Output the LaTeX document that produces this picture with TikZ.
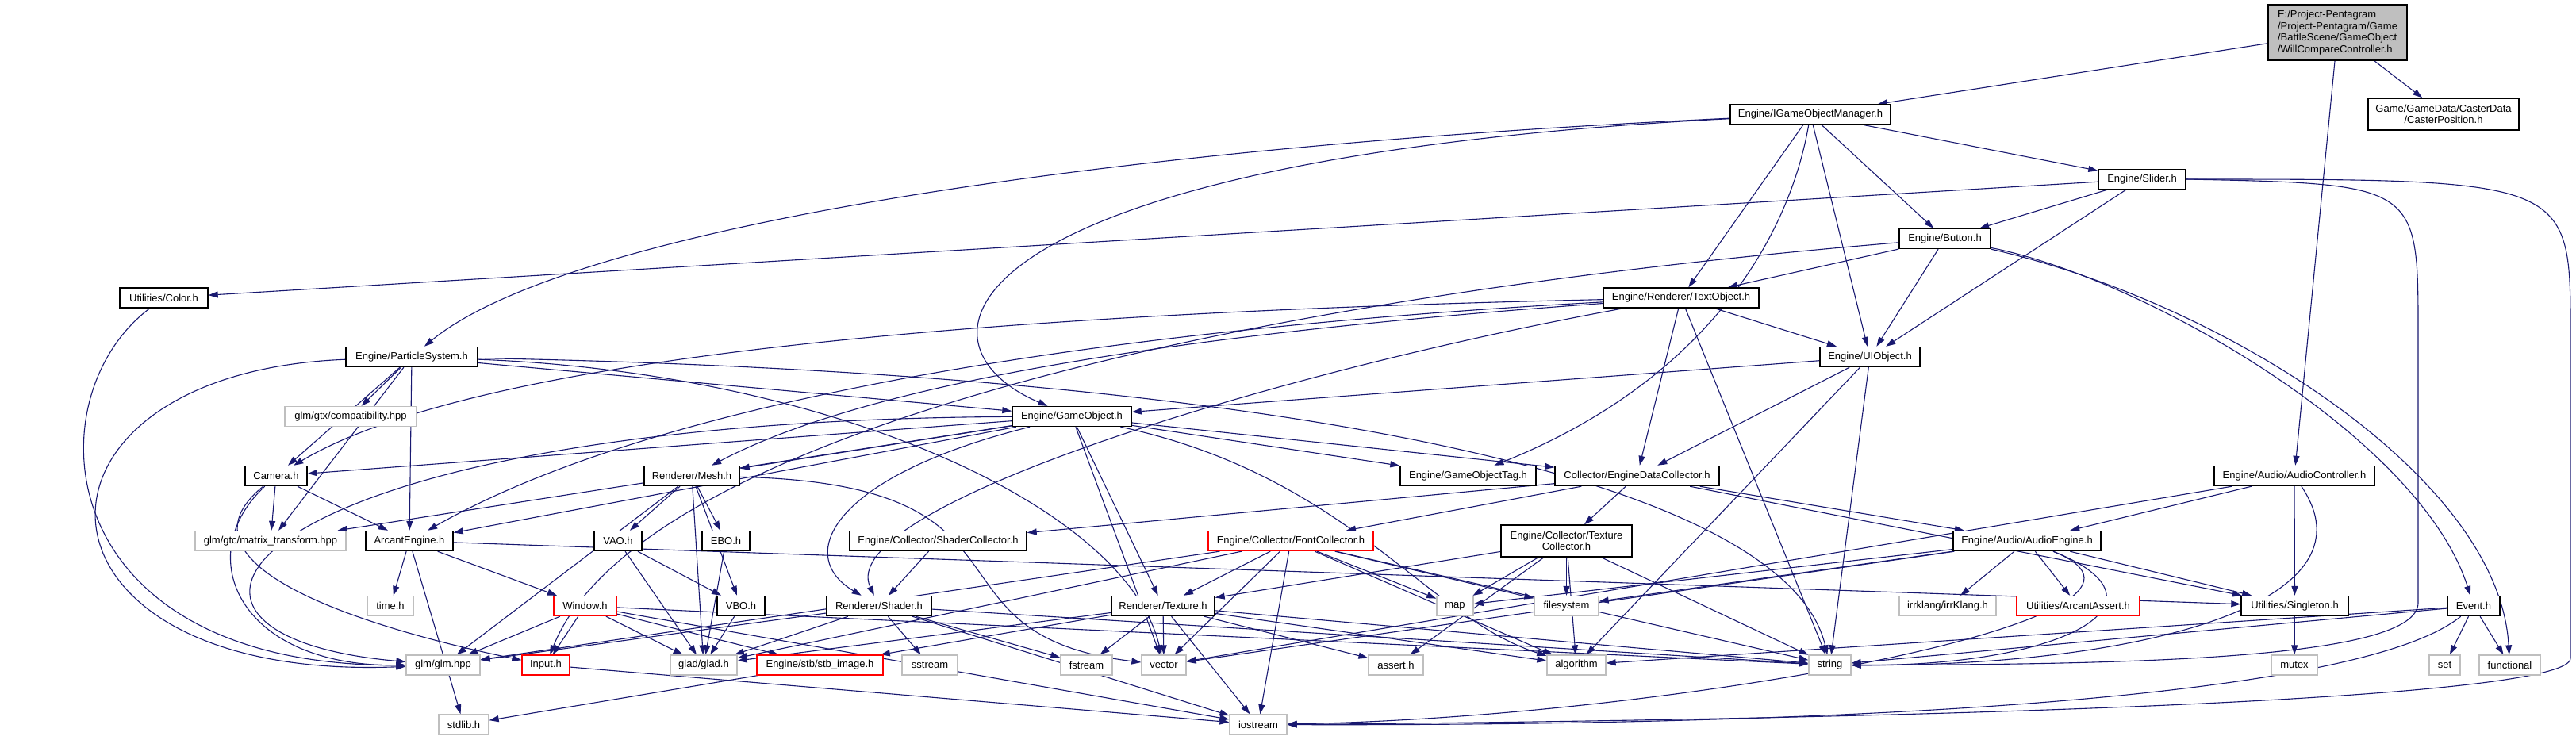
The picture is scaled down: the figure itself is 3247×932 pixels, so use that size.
\documentclass[tikz,border=0pt]{standalone}
\usepackage{fontspec}
\newfontfamily\dotfont{Liberation Sans}
\usetikzlibrary{arrows.meta,backgrounds}
\definecolor{depBlue}{HTML}{191970}
\definecolor{depGray}{HTML}{BFBFBF}
\definecolor{depRed}{HTML}{FF0000}
\tikzset{
  file/.style={draw=black, line width=1.4pt, fill=white, inner sep=0pt,
    minimum height=25pt, align=center, font=\dotfont\fontsize{13}{14.5}\selectfont},
  sysfile/.style={file, draw=depGray, line width=1.3pt},
  cutfile/.style={file, draw=depRed, line width=1.3pt},
  rootfile/.style={file, fill=depGray, align=left},
  dep/.style={draw=depBlue, line width=1.1pt, -{Triangle[length=12pt,width=8pt]}},
}
\begin{document}
\begin{tikzpicture}[x=1pt,y=-1pt]
  \useasboundingbox (0,0) rectangle (3247,932);
  % rows of the include graph
  \node[rootfile, minimum width=175pt, minimum height=70pt] (root) at (2946.5,41)
    {E:/Project-Pentagram\\/Project-Pentagram/Game\\/BattleScene/GameObject\\/WillCompareController.h};
  \node[file, minimum width=202pt] (igom) at (2282,144.5) {Engine/IGameObjectManager.h};
  \node[file, minimum width=190pt, minimum height=40pt] (caster) at (3080,144)
    {Game/GameData/CasterData\\/CasterPosition.h};
  \node[file, minimum width=110pt] (slider) at (2700,226) {Engine/Slider.h};
  \node[file, minimum width=115pt] (button) at (2451.5,301) {Engine/Button.h};
  \node[file, minimum width=196pt] (textobj) at (2119,375.5) {Engine/Renderer/TextObject.h};
  \node[file, minimum width=111pt] (color) at (206.5,375.5) {Utilities/Color.h};
  \node[file, minimum width=126pt] (uiobj) at (2357,450) {Engine/UIObject.h};
  \node[file, minimum width=166pt] (particles) at (519,450) {Engine/ParticleSystem.h};
  \node[file, minimum width=150pt] (gameobj) at (1351,525) {Engine/GameObject.h};
  \node[sysfile, minimum width=166pt] (compat) at (442,525) {glm/gtx/compatibility.hpp};
  \node[file, minimum width=78pt] (camera) at (348,600) {Camera.h};
  \node[file, minimum width=120pt] (mesh) at (872,600) {Renderer/Mesh.h};
  \node[file, minimum width=171pt] (gotag) at (1850.5,600) {Engine/GameObjectTag.h};
  \node[file, minimum width=207pt] (edc) at (2063.5,600) {Collector/EngineDataCollector.h};
  \node[file, minimum width=202pt] (audioctrl) at (2892,600) {Engine/Audio/AudioController.h};
  \node[sysfile, minimum width=190pt] (mattrans) at (341,682) {glm/gtc/matrix\_transform.hpp};
  \node[file, minimum width=110pt] (arcant) at (516,682) {ArcantEngine.h};
  \node[file, minimum width=60pt] (vao) at (779,682) {VAO.h};
  \node[file, minimum width=60pt] (ebo) at (915,682) {EBO.h};
  \node[file, minimum width=223pt] (shadercol) at (1182.5,682) {Engine/Collector/ShaderCollector.h};
  \node[cutfile, minimum width=208pt] (fontcol) at (1627,682) {Engine/Collector/FontCollector.h};
  \node[file, minimum width=165pt, minimum height=40pt] (texcol) at (1974.5,682)
    {Engine/Collector/Texture\\Collector.h};
  \node[file, minimum width=186pt] (audioeng) at (2555,682) {Engine/Audio/AudioEngine.h};
  \node[sysfile, minimum width=58pt] (timeh) at (492,764) {time.h};
  \node[cutfile, minimum width=79pt] (window) at (737.5,764) {Window.h};
  \node[file, minimum width=60pt] (vbo) at (934,764) {VBO.h};
  \node[file, minimum width=132pt] (shader) at (1108,764) {Renderer/Shader.h};
  \node[file, minimum width=130pt] (texture) at (1466,764) {Renderer/Texture.h};
  \node[sysfile, minimum width=46pt] (mapp) at (1834,764) {map};
  \node[sysfile, minimum width=81pt] (filesys) at (1974.5,764) {filesystem};
  \node[sysfile, minimum width=122pt] (irrklang) at (2455,764) {irrklang/irrKlang.h};
  \node[cutfile, minimum width=155pt] (arcassert) at (2619.5,764) {Utilities/ArcantAssert.h};
  \node[file, minimum width=135pt] (singleton) at (2892.5,764) {Utilities/Singleton.h};
  \node[file, minimum width=66pt] (event) at (3118,764) {Event.h};
  \node[sysfile, minimum width=93pt] (glmh) at (558.5,838.5) {glm/glm.hpp};
  \node[cutfile, minimum width=60pt] (input) at (688,838.5) {Input.h};
  \node[sysfile, minimum width=84pt] (glad) at (887,838.5) {glad/glad.h};
  \node[cutfile, minimum width=159pt] (stbimg) at (1033.5,838.5) {Engine/stb/stb\_image.h};
  \node[sysfile, minimum width=70pt] (sstream) at (1172,838.5) {sstream};
  \node[sysfile, minimum width=65pt] (fstream) at (1369.5,838.5) {fstream};
  \node[sysfile, minimum width=56pt] (vectorh) at (1467,838.5) {vector};
  \node[sysfile, minimum width=69pt] (asserth) at (1759.5,838.5) {assert.h};
  \node[sysfile, minimum width=74pt] (algo) at (1987,838.5) {algorithm};
  \node[sysfile, minimum width=53pt] (stringh) at (2306.5,838.5) {string};
  \node[sysfile, minimum width=58pt] (mutex) at (2892,838.5) {mutex};
  \node[sysfile, minimum width=39pt] (seth) at (3081.5,838.5) {set};
  \node[sysfile, minimum width=77pt] (functional) at (3163.5,838.5) {functional};
  \node[sysfile, minimum width=63pt] (stdlibh) at (584.5,913.5) {stdlib.h};
  \node[sysfile, minimum width=72pt] (iostream) at (1586,913.5) {iostream};

  % includes
  \begin{scope}[on background layer]
    \path (root) edge[dep] (igom) edge[dep] (caster) edge[dep] (audioctrl);
    \draw[dep] (igom) .. controls (1300,190) and (700,300) .. (particles);
    \draw[dep] (igom) .. controls (1200,200) and (1130,430) .. (gameobj);
    \draw[dep] (igom) .. controls (2255,300) and (2150,480) .. (gotag);
    \path (igom) edge[dep] (textobj) edge[dep] (uiobj) edge[dep] (button) edge[dep] (slider);
    \path (slider) edge[dep] (color) edge[dep] (button) edge[dep] (uiobj);
    \draw[dep] (slider.east) .. controls (3048,232) .. (3048,420) -- (3048,760)
      .. controls (3048,830) and (2700,838) .. (stringh.east);
    \draw[dep] (slider.east) .. controls (3240,226) .. (3240,420) -- (3240,830)
      .. controls (3240,880) and (2500,906) .. (iostream.east);
    \path (button) edge[dep] (textobj) edge[dep] (uiobj);
    \draw[dep] (button) .. controls (2700,350) and (3050,550) .. (event);
    \draw[dep] (button) .. controls (2800,380) and (3150,600) .. (functional);
    \draw[dep] (button) .. controls (1500,380) and (800,560) .. (input);
    \draw[dep] (textobj) .. controls (1000,400) and (550,480) .. (camera);
    \draw[dep] (textobj) .. controls (1300,420) and (800,520) .. (arcant);
    \draw[dep] (textobj) .. controls (1500,420) and (1100,480) .. (mesh);
    \draw[dep] (textobj) .. controls (1600,470) and (1050,640) .. (shader);
    \path (textobj) edge[dep] (uiobj) edge[dep] (edc) edge[dep] (stringh);
    \draw[dep] (color) .. controls (40,500) and (60,840) .. (glmh);
    \path (particles) edge[dep] (compat) edge[dep] (camera) edge[dep] (mattrans)
      edge[dep] (arcant) edge[dep] (gameobj);
    \draw[dep] (particles) .. controls (0,470) and (10,860) .. (glmh);
    \draw[dep] (particles) .. controls (1050,470) and (1420,640) .. (vectorh);
    \draw[dep] (particles) .. controls (1600,470) and (2250,600) .. (stringh);
    \path (uiobj) edge[dep] (gameobj) edge[dep] (edc) edge[dep] (stringh) edge[dep] (algo);
    \path (gameobj) edge[dep] (camera) edge[dep] (mesh) edge[dep] (arcant) edge[dep] (mattrans)
      edge[dep] (texture) edge[dep] (vectorh) edge[dep] (gotag) edge[dep] (edc);
    \draw[dep] (gameobj) .. controls (300,530) and (120,800) .. (glmh);
    \draw[dep] (gameobj) .. controls (1050,600) and (1000,700) .. (shader);
    \draw[dep] (gameobj) .. controls (1700,600) and (1800,780) .. (algo);
    \path (camera) edge[dep] (mattrans) edge[dep] (arcant);
    \draw[dep] (camera) .. controls (240,700) and (300,840) .. (glmh);
    \draw[dep] (camera) .. controls (200,720) and (500,800) .. (input);
    \path (mesh) edge[dep] (vao) edge[dep] (vbo) edge[dep] (ebo) edge[dep] (glad) edge[dep] (glmh);
    \draw[dep] (mesh) .. controls (1330,610) and (1150,800) .. (vectorh);
    \path (edc) edge[dep] (shadercol) edge[dep] (fontcol) edge[dep] (texcol)
      edge[dep] (audioeng) edge[dep] (singleton);
    \path (audioctrl) edge[dep] (audioeng) edge[dep] (singleton) edge[dep] (vectorh);
    \draw[dep] (audioctrl) .. controls (3000,760) and (2700,840) .. (stringh);
    \path (arcant) edge[dep] (timeh) edge[dep] (stdlibh) edge[dep] (window) edge[dep] (singleton);
    \path (vao) edge[dep] (vbo) edge[dep] (glad);
    \path (ebo) edge[dep] (glad);
    \path (vbo) edge[dep] (glad);
    \path (shadercol) edge[dep] (shader);
    \path (fontcol) edge[dep] (texture) edge[dep] (glmh) edge[dep] (glad) edge[dep] (vectorh)
      edge[dep] (iostream) edge[dep] (mapp) edge[dep] (filesys) edge[dep] (stringh)
      edge[dep] (algo);
    \path (texcol) edge[dep] (texture) edge[dep] (mapp) edge[dep] (filesys) edge[dep] (asserth)
      edge[dep] (algo) edge[dep] (stringh);
    \path (audioeng) edge[dep] (mapp) edge[dep] (filesys) edge[dep] (vectorh) edge[dep] (irrklang)
      edge[dep] (arcassert) edge[dep] (singleton);
    \draw[dep] (audioeng) .. controls (2750,760) and (2600,840) .. (stringh);
    \draw[dep] (audioeng) .. controls (2800,780) and (2100,905) .. (iostream);
    \path (window) edge[dep] (glmh) edge[dep] (input) edge[dep] (glad) edge[dep] (stbimg)
      edge[dep] (iostream) edge[dep] (stringh);
    \path (shader) edge[dep] (glmh) edge[dep] (glad) edge[dep] (sstream) edge[dep] (fstream)
      edge[dep] (iostream) edge[dep] (stringh);
    \path (texture) edge[dep] (glad) edge[dep] (stbimg) edge[dep] (fstream) edge[dep] (vectorh)
      edge[dep] (iostream) edge[dep] (asserth) edge[dep] (stringh) edge[dep] (algo);
    \path (singleton) edge[dep] (mutex);
    \path (event) edge[dep] (algo) edge[dep] (stringh) edge[dep] (seth) edge[dep] (functional);
    \draw[dep] (event) .. controls (2950,900) and (2100,915) .. (iostream);
    \path (input) edge[dep] (iostream);
    \path (stbimg) edge[dep] (stdlibh);
  \end{scope}
\end{tikzpicture}
\end{document}
